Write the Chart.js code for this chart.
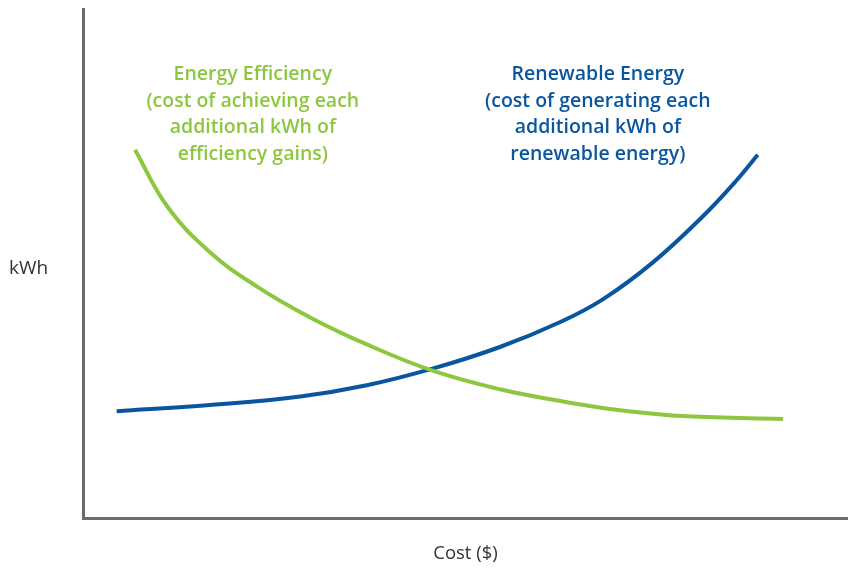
<!DOCTYPE html>
<html>
<head>
<meta charset="utf-8">
<script src="https://cdn.jsdelivr.net/npm/chart.js@4.4.0/dist/chart.umd.min.js"></script>
<style>
  html, body { margin: 0; padding: 0; background: #fff; }
  #wrap { width: 848px; height: 569px; position: relative; }
</style>
</head>
<body>
<div id="wrap"><canvas id="myChart"></canvas></div>
<script>
// curve values (cost on x, kWh on y, 0-100 units)
const efficiencyX = [6.8, 11.0, 16.6, 22.7, 29.7, 37.1, 45.8, 54.5, 62.4, 70.2, 79.0, 91.5];
const efficiencyY = [72.4, 61.3, 52.3, 45.6, 39.5, 34.2, 29.0, 25.4, 23.1, 21.3, 20.1, 19.6];
const renewableX = [4.4, 16.6, 28.4, 37.1, 45.8, 54.5, 62.4, 68.0, 74.5, 81.0, 85.5, 88.2];
const renewableY = [21.1, 22.3, 24.0, 26.2, 29.5, 33.7, 38.6, 43.1, 50.3, 59.3, 66.5, 71.4];

const efficiencyLabel = ["Energy Efficiency", "(cost of achieving each", "additional kWh of", "efficiency gains)"];
const renewableLabel = ["Renewable Energy", "(cost of generating each", "additional kWh of", "renewable energy)"];
const xTitle = "Cost ($)";
const yTitle = "kWh";

const GREEN = "#8dc63f";
const BLUE = "#0a559f";

function toPoints(xs, ys) {
  return xs.map((x, i) => ({ x: x, y: ys[i] }));
}

// draws the two text blocks and the kWh label
const labelsPlugin = {
  id: "labels",
  afterDraw(chart) {
    const ctx = chart.ctx;
    const xs = chart.scales.x;
    const ys = chart.scales.y;
    ctx.save();
    ctx.textAlign = "center";
    ctx.textBaseline = "middle";
    ctx.font = "600 19.5px 'Open Sans'";
    ctx.fillStyle = GREEN;
    efficiencyLabel.forEach((t, i) => {
      ctx.fillText(t, xs.getPixelForValue(22.2), ys.getPixelForValue(87.2) + i * 26.7);
    });
    ctx.fillStyle = BLUE;
    renewableLabel.forEach((t, i) => {
      ctx.fillText(t, xs.getPixelForValue(67.3), ys.getPixelForValue(87.2) + i * 26.7);
    });
    ctx.font = "19px 'Open Sans'";
    ctx.fillStyle = "#333";
    ctx.textAlign = "left";
    ctx.fillText(yTitle, 9, ys.getPixelForValue(49));
    ctx.restore();
  },
};

const ctx = document.getElementById("myChart").getContext("2d");
const myChart = new Chart(ctx, {
  type: "scatter",
  data: {
    datasets: [
      {
        label: "Energy Efficiency",
        data: toPoints(efficiencyX, efficiencyY),
        borderColor: GREEN,
        borderWidth: 4,
        showLine: true,
        pointRadius: 0,
        tension: 0.4,
      },
      {
        label: "Renewable Energy",
        data: toPoints(renewableX, renewableY),
        borderColor: BLUE,
        borderWidth: 4,
        showLine: true,
        pointRadius: 0,
        tension: 0.4,
      },
    ],
  },
  options: {
    responsive: true,
    maintainAspectRatio: false,
    animation: false,
    layout: { padding: { left: 75, top: 9, right: 0, bottom: 4 } },
    plugins: {
      legend: { display: false },
      tooltip: { enabled: false },
    },
    scales: {
      x: {
        type: "linear",
        min: 0,
        max: 100,
        grid: { display: false },
        border: { display: true, color: "#6b6b6b", width: 3 },
        ticks: { display: false },
        title: {
          display: true,
          text: xTitle,
          color: "#333",
          font: { family: "'Open Sans'", size: 18.5 },
          padding: { top: 16, bottom: 0 },
        },
      },
      y: {
        min: 0,
        max: 100,
        grid: { display: false },
        border: { display: true, color: "#6b6b6b", width: 3 },
        ticks: { display: false },
      },
    },
  },
  plugins: [labelsPlugin],
});
</script>
</body>
</html>
